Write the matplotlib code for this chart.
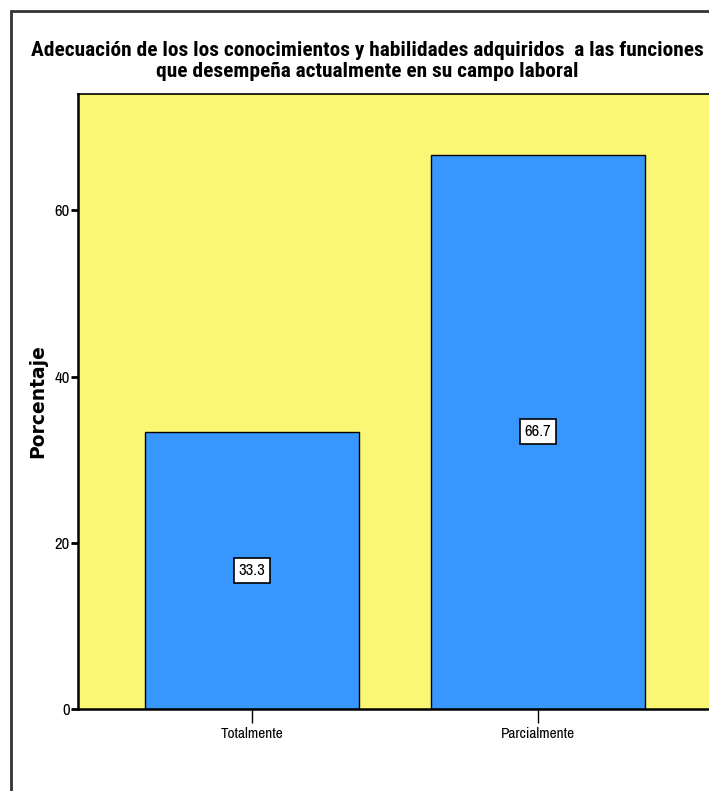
import matplotlib.pyplot as plt
from matplotlib.patches import Rectangle

# ------------------------------------------------------------
# Datos

categorias = ["Totalmente", "Parcialmente"]
porcentajes = [33.3, 66.7]
etiquetas = ["33.3", "66.7"]
yticks = [0, 20, 40, 60]

titulo = ("Adecuación de los los conocimientos y habilidades adquiridos  a las funciones\n"
          "que desempeña actualmente en su campo laboral")

narrow = ["Archivo Narrow", "DejaVu Sans"]
narrow_bold = ["Roboto Condensed", "Asap Condensed", "Archivo Narrow", "DejaVu Sans"]

# ------------------------------------------------------------
# Figura

fig = plt.figure(figsize=(7.09, 7.91), dpi=100)
W, H = 709, 791

# marco exterior
fig.patches.append(Rectangle((11 / W, -0.1), 1.2, 1 - 11 / H + 0.1,
                             transform=fig.transFigure, fill=False,
                             edgecolor="#333333", linewidth=2))

ax = fig.add_axes([78 / W, (H - 709) / H, (712 - 78) / W, (709 - 94) / H])
ax.set_facecolor("#FAF775")

x = list(range(len(categorias)))
ax.bar(x, porcentajes, width=0.748, color="#3797FE", edgecolor="black", linewidth=1)

for xi, v, t in zip(x, porcentajes, etiquetas):
    ax.text(xi, v / 2, t, ha="center", va="center", fontsize=12, family=narrow,
            bbox=dict(boxstyle="square,pad=0.3", facecolor="white", edgecolor="black", linewidth=1.2))

ax.set_xlim(-0.608, 1.608)
ax.set_ylim(0, 74)
ax.set_xticks(x)
ax.set_xticklabels(categorias, family=narrow, fontsize=11)
ax.set_yticks(yticks)
ax.set_yticklabels([str(v) for v in yticks], family=narrow, fontsize=12)
ax.tick_params(axis="x", length=10, width=1, pad=3)
ax.tick_params(axis="y", length=5, width=2, pad=1)

for s in ["left", "bottom"]:
    ax.spines[s].set_linewidth(1.8)
ax.spines["top"].set_linewidth(1.2)
ax.spines["right"].set_visible(False)

ax.set_ylabel("Porcentaje", fontsize=13.5, fontweight="bold", family="DejaVu Sans", labelpad=5)

fig.text(367 / W, 1 - 61 / H, titulo, ha="center", va="center", fontsize=15.4,
         fontweight="bold", family=narrow_bold, linespacing=1.15)

plt.savefig("out.png", dpi=100)
